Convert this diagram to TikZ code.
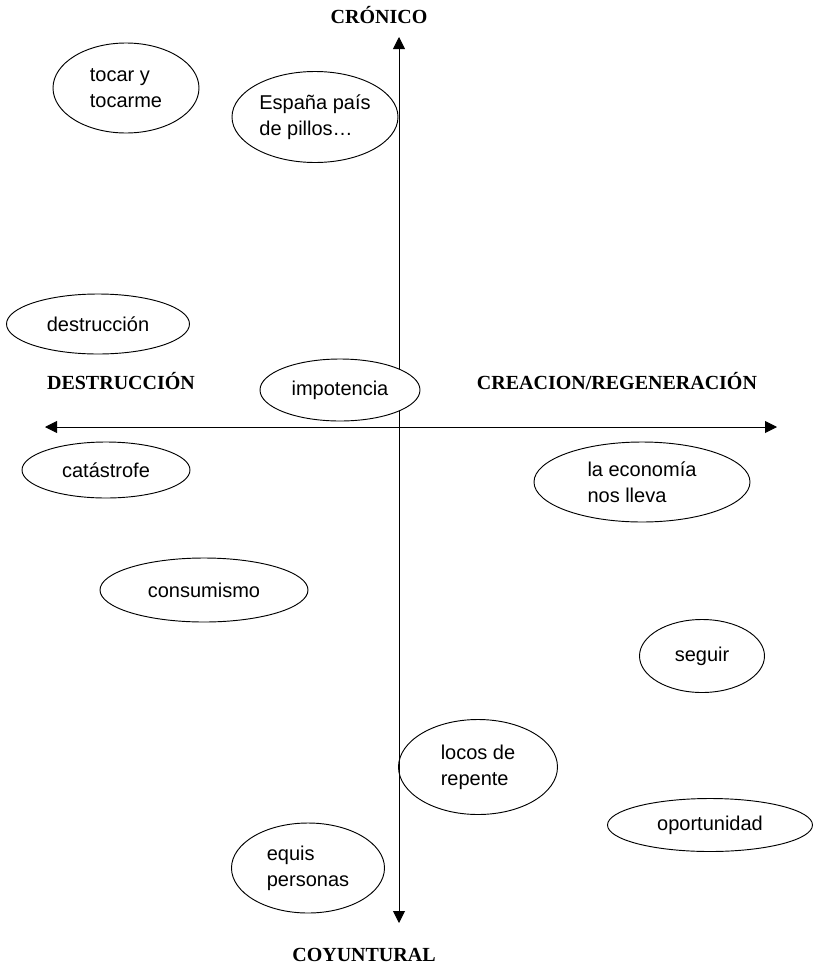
\documentclass[tikz,border=0pt]{standalone}
\usepackage{fontspec}
\setmainfont{Liberation Serif}
\setsansfont{Liberation Sans}
\usetikzlibrary{shapes.geometric,arrows.meta}

\begin{document}
\begin{tikzpicture}[x=0.75pt,y=-0.75pt,
  bubble/.style 2 args={ellipse,draw,fill=white,line width=0.7pt,inner sep=0pt,
    minimum width=#1*0.75pt,minimum height=#2*0.75pt,align=left,
    font=\sffamily\fontsize{15}{19.5}\selectfont},
  pole/.style={font=\bfseries\fontsize{15}{18}\selectfont},
  axis/.style={line width=0.7pt,{Triangle[width=9pt,length=9pt]}-{Triangle[width=9pt,length=9pt]}}]
\useasboundingbox (0,0) rectangle (813,971);
% axes
\coordinate (up) at (399,37);
\coordinate (down) at (399,923);
\coordinate (left) at (45,427);
\coordinate (right) at (777,427);
\draw[axis] (down) -- (up);
\draw[axis] (left) -- (right);
\node[pole] (cron) at (379,15) {CRÓNICO};
\node[pole] (coyu) at (364,955) {COYUNTURAL};
\node[pole] (dest) at (121,381) {DESTRUCCIÓN};
\node[pole] (crea) at (617,381) {CREACION/REGENERACIÓN};
% bubbles
\node[bubble={146}{90}] (tocar) at (126,88) {tocar y\\tocarme};
\node[bubble={166}{91}] (espana) at (315,117) {España país\\de pillos…};
\node[bubble={183}{60}] (destr) at (98,324) {destrucción};
\node[bubble={160}{62}] (impo) at (340,390) {impotencia};
\node[bubble={168}{56}] (cata) at (106,470) {catástrofe};
\node[bubble={216}{80}] (econ) at (642,482) {la economía\\nos lleva};
\node[bubble={208}{64}] (consu) at (204,590) {consumismo};
\node[bubble={125}{73}] (seguir) at (702,656) {seguir};
\node[bubble={159}{95},fill=none] (locos) at (478,767) {locos de\\repente};
\node[bubble={205}{53}] (oport) at (710,825) {oportunidad};
\node[bubble={153}{90}] (equis) at (308,868) {equis\\personas};
\end{tikzpicture}
\end{document}
